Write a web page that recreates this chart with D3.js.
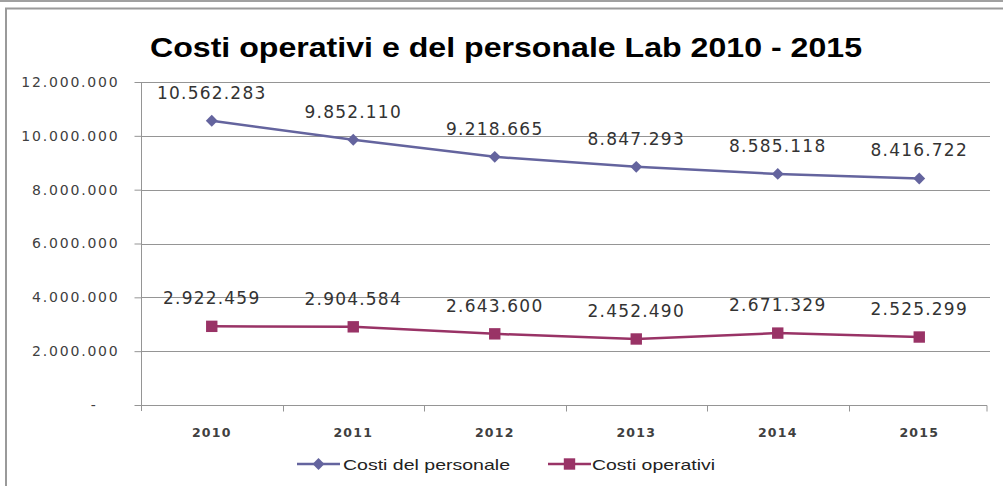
<!DOCTYPE html>
<html><head><meta charset="utf-8">
<script src="https://cdn.jsdelivr.net/npm/d3@7"></script>
<style>html,body{margin:0;padding:0;background:#fff;}svg{display:block;}</style>
</head><body>
<script>
const title = "Costi operativi e del personale Lab 2010 - 2015";
const years = ["2010","2011","2012","2013","2014","2015"];
const personale = [10562283, 9852110, 9218665, 8847293, 8585118, 8416722];
const operativi = [2922459, 2904584, 2643600, 2452490, 2671329, 2525299];
const yTicks = [0, 2000000, 4000000, 6000000, 8000000, 10000000, 12000000];
const seriesNames = ["Costi del personale", "Costi operativi"];

const W = 1003, H = 486;
const svg = d3.select("body").append("svg").attr("width", W).attr("height", H);

// frame
svg.append("rect").attr("x",0).attr("y",0).attr("width",W).attr("height",2).attr("fill","#a0a0a0");
svg.append("line").attr("x1",5).attr("x2",W).attr("y1",8.5).attr("y2",8.5).attr("stroke","#9a9a9a").attr("stroke-width",2);
svg.append("line").attr("x1",6).attr("x2",6).attr("y1",8).attr("y2",H).attr("stroke","#9a9a9a").attr("stroke-width",2);

const fmt = v => v === 0 ? "-" : d3.format(",")(v).replace(/,/g, ".");

const x = d3.scaleBand().domain(years).range([141, 990]);
const y = d3.scaleLinear().domain([0, 12000000]).range([405, 82]);

// title
svg.append("text").attr("x", 506).attr("y", 57).attr("text-anchor","middle")
  .attr("font-family","Liberation Sans, Arial, sans-serif").attr("font-weight","bold")
  .attr("font-size", 27).attr("fill","#000")
  .attr("textLength", 712).attr("lengthAdjust","spacingAndGlyphs").text(title);

// gridlines
svg.append("g").selectAll("line").data(yTicks.filter(d=>d>0)).join("line")
  .attr("x1",141).attr("x2",990).attr("y1",d=>Math.round(y(d))+0.5).attr("y2",d=>Math.round(y(d))+0.5)
  .attr("stroke","#959595").attr("stroke-width",1);

// y axis
const yAxis = d3.axisLeft(y).tickValues(yTicks).tickFormat(fmt).tickSize(7).tickPadding(15);
const gy = svg.append("g").attr("transform","translate(141.5,0)").call(yAxis);
gy.select(".domain").attr("stroke","#959595").attr("d","M0,82V411");
gy.selectAll(".tick line").attr("stroke","#959595");
gy.selectAll(".tick text").attr("font-family","DejaVu Sans, Verdana, sans-serif").attr("font-size",14)
  .attr("letter-spacing",1.8).attr("fill","#404040")
  .attr("dx", d => d === 0 ? -22 : 0);

// x axis
const xAxis = d3.axisBottom(x).tickSize(0).tickPadding(0);
const gx = svg.append("g").attr("transform","translate(0,405.5)").call(xAxis);
gx.select(".domain").attr("stroke","#959595").attr("d","M141,0H987V6");
gx.selectAll(".tick text").attr("font-family","DejaVu Sans, Verdana, sans-serif").attr("font-weight","bold")
  .attr("font-size",12.5).attr("letter-spacing",1.2).attr("fill","#404040").attr("dy",null).attr("y",31);
const bounds = [...years.map(d=>x(d)), 990];
gx.append("g").selectAll("line").data(bounds.slice(1,-1)).join("line")
  .attr("x1",d=>Math.round(d)+0.5).attr("x2",d=>Math.round(d)+0.5).attr("y1",0).attr("y2",6).attr("stroke","#959595");

const cx = d => x(d) + x.bandwidth()/2;
const series = [
  {name: seriesNames[0], values: personale, color: "#64649e", marker: "diamond", tl: 167},
  {name: seriesNames[1], values: operativi, color: "#993366", marker: "square", tl: 123}
];
const line = d3.line().x((d,i)=>cx(years[i])).y(d=>y(d));
const diamond = d3.symbol().type(d3.symbolDiamond2).size(90);
const square = d3.symbol().type(d3.symbolSquare).size(130);

series.forEach(s => {
  svg.append("path").datum(s.values).attr("d", line).attr("fill","none").attr("stroke",s.color).attr("stroke-width",2.5);
  svg.append("g").selectAll("path").data(s.values).join("path")
    .attr("transform",(d,i)=>`translate(${cx(years[i])},${y(d)})`)
    .attr("d", s.marker === "diamond" ? diamond() : square()).attr("fill", s.color);
  svg.append("g").selectAll("text").data(s.values).join("text")
    .attr("x",(d,i)=>cx(years[i])).attr("y",d=>y(d)-22).attr("text-anchor","middle")
    .attr("font-family","DejaVu Sans, Verdana, sans-serif").attr("font-size",17).attr("letter-spacing",1.2).attr("fill","#333")
    .text(fmt);
});

// legend
const leg = [{x0:297, tx:343}, {x0:548, tx:592}];
series.forEach((s,i) => {
  const g = svg.append("g");
  g.append("line").attr("x1",leg[i].x0).attr("x2",leg[i].x0+43).attr("y1",464).attr("y2",464).attr("stroke",s.color).attr("stroke-width",2.5);
  g.append("path").attr("transform",`translate(${leg[i].x0+21.5},464)`).attr("d", s.marker==="diamond"?diamond():square()).attr("fill",s.color);
  g.append("text").attr("x",leg[i].tx).attr("y",469.5).attr("font-family","Liberation Sans, Arial, sans-serif")
    .attr("font-size",15).attr("fill","#222").attr("textLength", s.tl).attr("lengthAdjust","spacingAndGlyphs").text(s.name);
});
</script>
</body></html>
